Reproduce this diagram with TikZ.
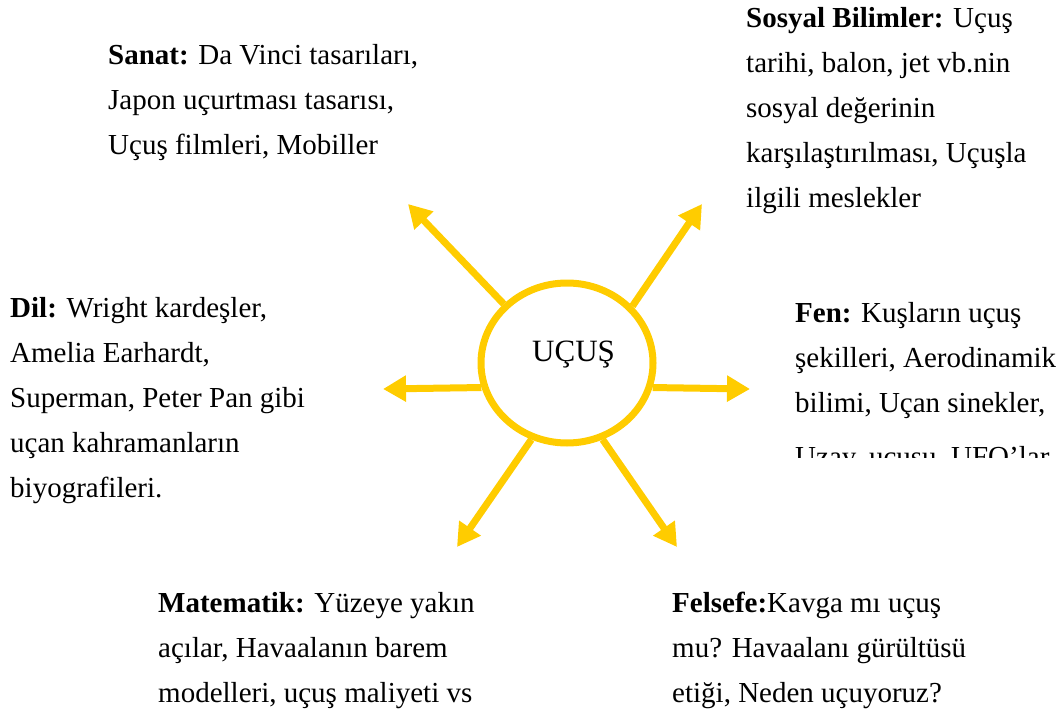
\documentclass[tikz,border=0pt]{standalone}
\usepackage{fontspec}
\setmainfont{Liberation Serif}
\usetikzlibrary{arrows.meta,shapes.geometric}
\definecolor{sari}{HTML}{FFCC00}
\tikzset{
  konu/.style={anchor=base west, inner sep=0pt, align=left,
    font=\fontsize{29}{45}\selectfont},
  ok/.style={draw=sari, line width=7pt,
    -{Triangle[length=23pt, width=25pt]}}
}

\begin{document}
\begin{tikzpicture}[x=1pt, y=-1pt]
  \useasboundingbox (0,0) rectangle (1063,709);

  \node[ellipse, draw=sari, line width=7pt, minimum width=172pt,
    minimum height=160pt] (ucus) at (567,363) {};
  \node[anchor=base west, inner sep=0pt, font=\fontsize{31}{36}\selectfont]
    (baslik) at (532,361) {UÇUŞ};

  \coordinate (sanatuc) at (408,204);
  \coordinate (sosyaluc) at (702,204);
  \coordinate (diluc) at (383,389);
  \coordinate (fenuc) at (750,389);
  \coordinate (matuc) at (457,547);
  \coordinate (feluc) at (677,547);

  \draw[ok] (ucus.137) -- (sanatuc);
  \draw[ok] (ucus.41) -- (sosyaluc);
  \draw[ok] (ucus.196) -- (diluc);
  \draw[ok] (ucus.344) -- (fenuc);
  \draw[ok] (ucus.245) -- (matuc);
  \draw[ok] (ucus.295) -- (feluc);

  % base = baseline of the last line
  \node[konu] (sanat) at (108,154)
    {\textbf{Sanat:} Da Vinci tasarıları,\\Japon uçurtması tasarısı,\\Uçuş filmleri, Mobiller};
  \node[konu] (sosyal) at (746,207)
    {\textbf{Sosyal Bilimler:} Uçuş\\tarihi, balon, jet vb.nin\\sosyal değerinin\\karşılaştırılması, Uçuşla\\ilgili meslekler};
  \node[konu] (dil) at (10,497)
    {\textbf{Dil:} Wright kardeşler,\\Amelia Earhardt,\\Superman, Peter Pan gibi\\uçan kahramanların\\biyografileri.};
  \begin{scope}
    \clip (780,280) rectangle (1063,457);
    \node[konu] (fen) at (795,466)
      {\textbf{Fen:} Kuşların uçuş\\şekilleri, Aerodinamik\\bilimi, Uçan sinekler,\\[9pt]Uzay, uçuşu, UFO’lar};
  \end{scope}
  \node[konu] (mat) at (158,702)
    {\textbf{Matematik:} Yüzeye yakın\\açılar, Havaalanın barem\\modelleri, uçuş maliyeti vs};
  \node[konu] (felsefe) at (672,702)
    {\textbf{Felsefe:}Kavga mı uçuş\\mu? Havaalanı gürültüsü\\etiği, Neden uçuyoruz?};
\end{tikzpicture}
\end{document}
